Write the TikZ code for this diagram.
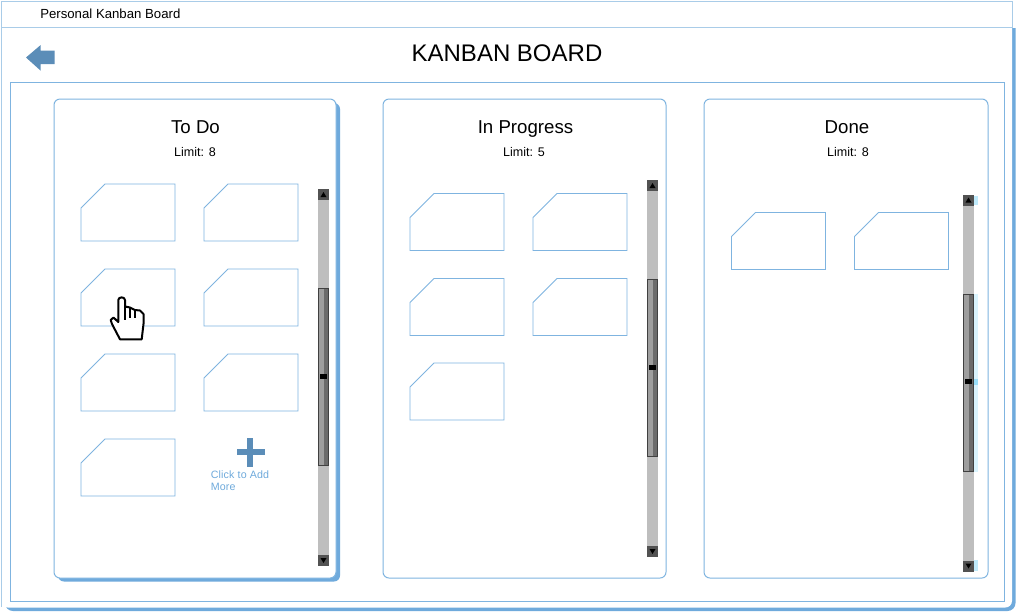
\documentclass[tikz,border=0pt]{standalone}
\usepackage{fontspec}
\setmainfont{Liberation Sans}
\definecolor{framelight}{HTML}{A9CCE8}
\definecolor{frameblue}{HTML}{7FB4E0}
\definecolor{shadowblue}{HTML}{6FAADC}
\definecolor{iconblue}{HTML}{5B8DB8}
\definecolor{trackgray}{HTML}{BEBEBE}
\tikzset{
	frameline/.style={draw=framelight, line width=0.75pt},
	panel/.style={draw=frameblue, line width=0.75pt, fill=white, rounded corners=4.5pt},
	cardshape/.style={draw=frameblue, line width=0.7pt, fill=white},
	title/.style={font=\fontsize{18}{20}\selectfont, anchor=base},
	heading/.style={font=\fontsize{14}{16}\selectfont, anchor=base},
	limit/.style={font=\fontsize{9.4}{11}\selectfont, anchor=base},
	card/.pic={
		\draw[cardshape] (24,0) -- (94,0) -- (94,57) -- (0,57) -- (0,24) -- cycle;
	},
	scrollbar/.pic={
		% track, thumb and grip
		\fill[trackgray] (0,0) rectangle (11,377);
		\fill[black!75] (0,99) rectangle (11,277);
		\fill[black!38] (1,100) rectangle (5.5,276);
		\fill[black!58] (5.5,100) rectangle (10,276);
		\fill[black] (2,184.5) rectangle (9,189.5);
		% end buttons
		\fill[black!68] (0,0) rectangle (11,11);
		\fill[black] (5.5,3) -- (8.5,8) -- (2.5,8) -- cycle;
		\fill[black!68] (0,366) rectangle (11,377);
		\fill[black] (5.5,374) -- (8.5,369) -- (2.5,369) -- cycle;
	}
}

\begin{document}
\begin{tikzpicture}[x=0.75pt, y=-0.75pt]
	\useasboundingbox (0,0) rectangle (1016,612);

	% Draw the window frames
	\draw[frameline] (1,1) rectangle (1012,27);
	\node[anchor=base west, inner sep=0pt, font=\fontsize{9.9}{11}\selectfont] (windowname) at (40,18) {Personal Kanban Board};
	\fill[shadowblue, rounded corners=6pt] (1012,28) [sharp corners] -- (1015.5,28) [rounded corners=6pt] -- (1015.5,611) -- (5,611) [sharp corners] -- (5,600) -- cycle;
	\fill[white, rounded corners=5pt] (1,28) [sharp corners] -- (1012,28) [rounded corners=5pt] -- (1012,607.5) -- (1,607.5) [sharp corners] -- cycle;
	\draw[frameline] (1,607) -- (1,27) -- (1012,27);
	\draw[draw=frameblue, line width=0.75pt] (10,82) rectangle (1004,601);

	% Draw the header
	\fill[iconblue] (26,57.5) -- (40.7,45) -- (40.7,50.7) -- (54.5,50.7) -- (54.5,64) -- (40.7,64) -- (40.7,70.7) -- cycle;
	\node[title] (boardtitle) at (507,61) {KANBAN BOARD};

	% Draw the three columns
	\fill[shadowblue, rounded corners=4.5pt] (58,103) rectangle (340,581.5);
	\draw[panel] (54,99) rectangle (336,578);
	\draw[panel] (383,99) rectangle (666,578);
	\draw[panel] (704,99) rectangle (988,578);

	\node[heading] (todotitle) at (195.5,133) {To Do};
	\node[limit] (todolimit) at (195,156) {Limit: 8};
	\node[heading] (progresstitle) at (525.5,133) {In Progress};
	\node[limit] (progresslimit) at (524,156) {Limit: 5};
	\node[heading] (donetitle) at (847,133) {Done};
	\node[limit] (donelimit) at (848,156) {Limit: 8};

	% Draw the cards
	\pic at (81,184) {card};
	\pic at (204,184) {card};
	\pic at (81,269) {card};
	\pic at (204,269) {card};
	\pic at (81,354) {card};
	\pic at (204,354) {card};
	\pic at (81,439) {card};

	\pic at (410,193.5) {card};
	\pic at (533,193.5) {card};
	\pic at (410,278.5) {card};
	\pic at (533,278.5) {card};
	\pic at (410,363) {card};

	\pic at (731.5,212.5) {card};
	\pic at (854.5,212.5) {card};

	% Draw the scroll bars
	\pic at (318,189) {scrollbar};
	\pic at (647,180) {scrollbar};
	\fill[cyan!25] (974,196) rectangle (978,205);
	\fill[cyan!15] (974,294) rectangle (978,472);
	\fill[cyan!40] (974,379) rectangle (978,385);
	\fill[cyan!25] (974,560) rectangle (978,571);
	\pic at (963,194.5) {scrollbar};

	% Draw the add button
	\fill[iconblue] (247.3,438.3) rectangle (253.3,466.7);
	\fill[iconblue] (236.7,449.3) rectangle (265,455.3);
	\node[anchor=north west, inner sep=0pt, align=left, text=shadowblue, font=\fontsize{8}{9}\selectfont\addfontfeature{LetterSpace=1.5}] (addlabel) at (210.5,470.5) {Click to Add\\More};

	% Draw the hand cursor
	\filldraw[fill=white, draw=black, line width=1.5pt, line join=round] (120,339.3) -- (141.7,339.3) -- (143.5,324) -- (143.5,314) -- (140,310.5) -- (135,310) -- (130,307.5) -- (125,306.5) -- (125,300) .. controls (125,296.5) and (118.3,296.5) .. (118.3,300) -- (118.3,322) -- (113.5,317.5) -- (110.7,320) -- (112,324) -- cycle;
	\draw[black, line width=1.1pt] (125,306.5) -- (125,320);
	\draw[black, line width=1.1pt] (130,307.5) -- (130,317.5);
	\draw[black, line width=1.1pt] (135,310) -- (135,317.5);
\end{tikzpicture}
\end{document}
